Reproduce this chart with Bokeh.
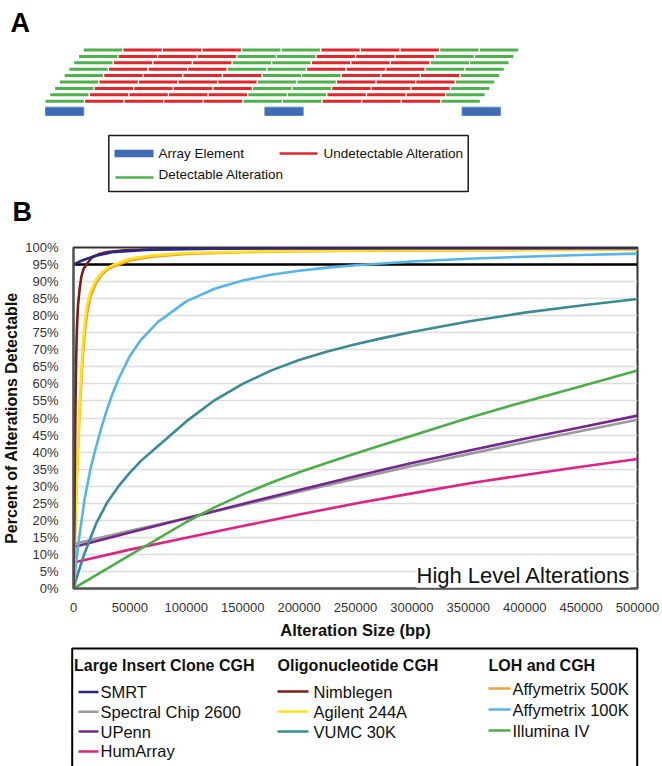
from bokeh.plotting import figure
from bokeh.models import Range1d, FixedTicker, NumeralTickFormatter, PrintfTickFormatter, Span, Label
from bokeh.layouts import column
from bokeh.embed import file_html
from bokeh.resources import INLINE
from bokeh.core.properties import value

FONT = "Liberation Sans"

# ---------------- Panel A : schematic data (units = one alteration length) ----------------
ELEMENT_STARTS = [0.0, 5.54, 10.52]
ELEMENT_LEN = 0.967
ALT_LEN = 0.967
ALT_PITCH = 1.0
ROW_SHIFT = 0.121
# rows from bottom to top, G = detectable, R = undetectable
ROW_PATTERNS = ["GRRRRGGRRRG"] * 5 + ["GRRRGGRRRGG"] * 4
A_LEGEND = ["Array Element", "Undetectable Alteration", "Detectable Alteration"]

# ---------------- Panel B : data (x in bp, y in %) ----------------
X_TICKS = [0, 50000, 100000, 150000, 200000, 250000, 300000, 350000, 400000, 450000, 500000]
Y_TICKS = list(range(0, 101, 5))
THRESHOLD = 95

SMRT_X = [0, 5000, 10000, 19000, 34000, 64000, 100000, 170000, 300000, 500000]
SMRT_Y = [95.0, 95.8, 96.5, 97.5, 98.6, 99.3, 99.6, 99.8, 99.85, 99.9]

LINEAR_X = [2000, 50000, 100000, 150000, 200000, 250000, 300000, 350000, 400000, 450000, 500000]
SPECTRAL_Y = [13.2, 16.9, 20.6, 24.5, 28.4, 32.2, 35.9, 39.4, 42.9, 46.2, 49.5]
UPENN_Y = [12.3, 16.4, 20.6, 24.8, 28.9, 32.9, 36.8, 40.4, 43.9, 47.3, 50.7]
HUMARRAY_Y = [7.8, 11.4, 14.9, 18.3, 21.7, 24.9, 27.9, 30.8, 33.3, 35.7, 38.0]

NIMBLEGEN_X = [0, 800, 1300, 1800, 2400, 3000, 4000, 5500, 7000, 9000, 11500, 16000, 22000,
               30000, 45000, 80000, 150000, 300000, 500000]
NIMBLEGEN_Y = [0, 20, 40, 55, 68, 76, 83, 88, 91.5, 93.8, 95.0, 97.0, 98.0,
               98.7, 99.2, 99.5, 99.7, 99.8, 99.85]

STEEP_X = [0, 1000, 2000, 3000, 4000, 5000, 6000, 8000, 10000, 12000, 15000, 20000, 25000,
           30000, 36000, 50000, 70000, 100000, 150000, 200000, 300000, 400000, 500000]
AGILENT_Y = [0, 12, 25, 34, 42, 50, 58, 70, 78, 83, 87, 90.5, 92.6,
             94.0, 95.0, 96.7, 97.7, 98.4, 98.8, 99.0, 99.2, 99.35, 99.45]
AFFY500_Y = [0, 11, 23, 32, 40, 48, 55, 67, 75, 80.5, 85.5, 89.5, 92.0,
             93.5, 94.5, 96.2, 97.3, 98.1, 98.6, 98.9, 99.1, 99.25, 99.35]

VUMC_X = [0, 5000, 10000, 20000, 30000, 40000, 50000, 60000, 75000, 100000, 125000, 150000,
          175000, 200000, 225000, 250000, 275000, 300000, 350000, 400000, 450000, 500000]
VUMC_Y = [0, 5.5, 10.5, 19.0, 25.3, 30.0, 34.0, 37.5, 41.8, 49.0, 55.2, 60.0,
          63.9, 67.0, 69.5, 71.6, 73.5, 75.2, 78.3, 80.9, 83.0, 84.9]

AFFY100_X = [0, 2500, 5000, 10000, 15000, 20000, 25000, 30000, 35000, 40000, 50000, 60000,
             75000, 100000, 125000, 150000, 175000, 200000, 225000, 250000, 300000, 350000,
             400000, 450000, 500000]
AFFY100_Y = [0, 8, 15, 26.5, 35, 41.5, 47.5, 52.8, 57.5, 61.5, 68.2, 73.0,
             78.2, 84.2, 87.9, 90.3, 92.0, 93.2, 94.1, 94.8, 95.9, 96.7,
             97.3, 97.8, 98.2]

ILLUMINA_X = [0, 25000, 50000, 75000, 100000, 125000, 150000, 175000, 200000, 225000, 250000,
              275000, 300000, 350000, 400000, 450000, 500000]
ILLUMINA_Y = [0, 4.9, 9.8, 14.6, 19.5, 23.8, 27.6, 31.0, 34.1, 36.9, 39.6,
              42.2, 44.8, 50.0, 54.8, 59.3, 63.9]

GROUPS = ["Large Insert Clone CGH", "Oligonucleotide CGH", "LOH and CGH"]
# (name, group, x, y, colour)
SERIES = [
    ("SMRT", 0, SMRT_X, SMRT_Y, "#27298A"),
    ("Spectral Chip 2600", 0, LINEAR_X, SPECTRAL_Y, "#9B9B9B"),
    ("UPenn", 0, LINEAR_X, UPENN_Y, "#74288E"),
    ("HumArray", 0, LINEAR_X, HUMARRAY_Y, "#DE2288"),
    ("Nimblegen", 1, NIMBLEGEN_X, NIMBLEGEN_Y, "#7A1C19"),
    ("Agilent 244A", 1, STEEP_X, AGILENT_Y, "#FFE21C"),
    ("VUMC 30K", 1, VUMC_X, VUMC_Y, "#3A8B96"),
    ("Affymetrix 500K", 2, STEEP_X, AFFY500_Y, "#F0A033"),
    ("Affymetrix 100K", 2, AFFY100_X, AFFY100_Y, "#55B5EA"),
    ("Illumina IV", 2, ILLUMINA_X, ILLUMINA_Y, "#4BAE48"),
]
DRAW_ORDER = ["Spectral Chip 2600", "UPenn", "HumArray", "Illumina IV", "VUMC 30K",
              "Affymetrix 100K", "Affymetrix 500K", "Agilent 244A", "Nimblegen", "SMRT"]

# ---------------- styles / layout constants ----------------
W = 662
GREEN = "#4DB24A"
RED = "#E1272B"
BLUE = "#3E6DB5"
COMMON = dict(output_backend="svg", toolbar_location=None, frame_align=False)

A_H = 232
A_X0, A_UNIT = 45.0, 39.6
A_ROW0_Y, A_ROW_DY = 100.7, 6.4
A_ELEM_TOP, A_ELEM_BOTTOM = 106.7, 115.0

pa = figure(width=W, height=A_H, x_range=Range1d(0, W), y_range=Range1d(A_H, 0),
            x_axis_type=None, y_axis_type=None, min_border=0, outline_line_color=None, **COMMON)
pa.grid.visible = False

xs0, xs1, ys, cols = [], [], [], []
for k, pat in enumerate(ROW_PATTERNS):
    for i, c in enumerate(pat):
        u0 = k * ROW_SHIFT + i * ALT_PITCH
        xs0.append(A_X0 + u0 * A_UNIT)
        xs1.append(A_X0 + (u0 + ALT_LEN) * A_UNIT)
        ys.append(A_ROW0_Y - k * A_ROW_DY)
        cols.append(GREEN if c == "G" else RED)
pa.segment(x0=xs0, y0=ys, x1=xs1, y1=ys, line_color=cols, line_width=3)
pa.quad(left=[A_X0 + s * A_UNIT for s in ELEMENT_STARTS],
        right=[A_X0 + (s + ELEMENT_LEN) * A_UNIT for s in ELEMENT_STARTS],
        top=A_ELEM_TOP, bottom=A_ELEM_BOTTOM, fill_color=BLUE, line_color="#5A86C8", line_width=1)

# panel A legend
pa.quad(left=[108.3], right=[467.7], top=[135], bottom=[191], fill_color=None,
        line_color="#1a1a1a", line_width=1.5)
pa.quad(left=[114], right=[153], top=[149.3], bottom=[156.7], fill_color=BLUE, line_color=None)
pa.segment(x0=[279, 115], y0=[153, 177], x1=[317, 153], y1=[153, 177],
           line_color=[RED, GREEN], line_width=2.5)
pa.text(x=[158, 323, 158], y=[153, 153, 174], text=A_LEGEND, text_font=value(FONT),
        text_font_size="13.5px", text_baseline="middle", text_align="left", text_color="#111111")
pa.text(x=[10, 12], y=[22, 211.5], text=["A", "B"], text_font=value(FONT), text_font_style="bold",
        text_font_size="27px", text_baseline="middle", text_align="left", text_color="#000000")

# ---------------- Panel B ----------------
pb = figure(width=W, height=413, x_range=Range1d(0, 500000), y_range=Range1d(0, 100),
            min_border_left=72, min_border_right=25, min_border_top=15, min_border_bottom=57,
            **COMMON)
pb.xaxis.ticker = FixedTicker(ticks=X_TICKS)
pb.xaxis.formatter = NumeralTickFormatter(format="0")
pb.yaxis.ticker = FixedTicker(ticks=Y_TICKS)
pb.yaxis.formatter = PrintfTickFormatter(format="%d%%")
pb.xgrid.visible = False
pb.ygrid.ticker = FixedTicker(ticks=Y_TICKS)
pb.ygrid.grid_line_color = "#DCDCDC"
pb.ygrid.grid_line_width = 1.5
for ax in (pb.xaxis[0], pb.yaxis[0]):
    ax.major_tick_line_color = None
    ax.minor_tick_line_color = None
    ax.axis_line_color = "#555555"
    ax.axis_line_width = 2
    ax.major_label_text_font = FONT
    ax.major_label_text_color = "#333333"
    ax.major_label_text_font_size = "13px"
    ax.axis_label_text_font = FONT
    ax.axis_label_text_font_style = "bold"
    ax.axis_label_text_color = "#111111"
pb.xaxis.major_label_standoff = 8
pb.yaxis.major_label_standoff = 9
pb.xaxis.axis_label = "Alteration Size (bp)"
pb.yaxis.axis_label = "Percent of Alterations Detectable"
pb.xaxis.axis_label_text_font_size = "16.5px"
pb.yaxis.axis_label_text_font_size = "16px"
pb.xaxis.axis_label_standoff = 6
pb.yaxis.axis_label_standoff = 2
pb.outline_line_color = "#333333"
pb.outline_line_width = 2

pb.add_layout(Span(location=THRESHOLD, dimension="width", line_color="#000000",
                   line_width=2.5, level="underlay"))

by_name = {s[0]: s for s in SERIES}
for nm in DRAW_ORDER:
    _, _, xv, yv, colr = by_name[nm]
    pb.line(xv, yv, line_color=colr, line_width=2.6, line_join="round")

pb.add_layout(Label(x=493800, y=3.9, text="High Level Alterations", text_align="right",
                    text_baseline="middle", text_font=FONT, text_font_size="22px",
                    text_color="#111111", background_fill_color="white"))

# ---------------- Legend of panel B ----------------
L_H = 121
pl = figure(width=W, height=L_H, x_range=Range1d(0, W), y_range=Range1d(L_H, 0),
            x_axis_type=None, y_axis_type=None, min_border=0, outline_line_color=None, **COMMON)
pl.grid.visible = False
pl.quad(left=[71.7], right=[636.7], top=[3], bottom=[L_H + 40], fill_color=None,
        line_color="#000000", line_width=2)

HEAD_X = [73.5, 277, 488]
SW_X0 = [78, 277, 488]
SW_X1 = [98, 308, 510]
TXT_X = [100, 313, 512]
ROW_Y0 = [46.5, 46, 43]
ROW_DY = [19.8, 20, 21]

pl.text(x=HEAD_X, y=[20, 20, 20], text=GROUPS, text_font=value(FONT), text_font_style="bold",
        text_font_size="16px", text_baseline="middle", text_align="left", text_color="#111111")
sx0, sx1, sy, sc, tx, tt = [], [], [], [], [], []
count = [0, 0, 0]
for name, g, _, _, colr in SERIES:
    yy = ROW_Y0[g] + count[g] * ROW_DY[g]
    count[g] += 1
    sx0.append(SW_X0[g]); sx1.append(SW_X1[g]); sy.append(yy); sc.append(colr)
    tx.append(TXT_X[g]); tt.append(name)
pl.segment(x0=sx0, y0=sy, x1=sx1, y1=sy, line_color=sc, line_width=2.5)
pl.text(x=tx, y=sy, text=tt, text_font=value(FONT), text_font_size="16.5px",
        text_baseline="middle", text_align="left", text_color="#111111")

layout = column(pa, pb, pl)
open("out.html", "w").write(file_html(layout, INLINE))
